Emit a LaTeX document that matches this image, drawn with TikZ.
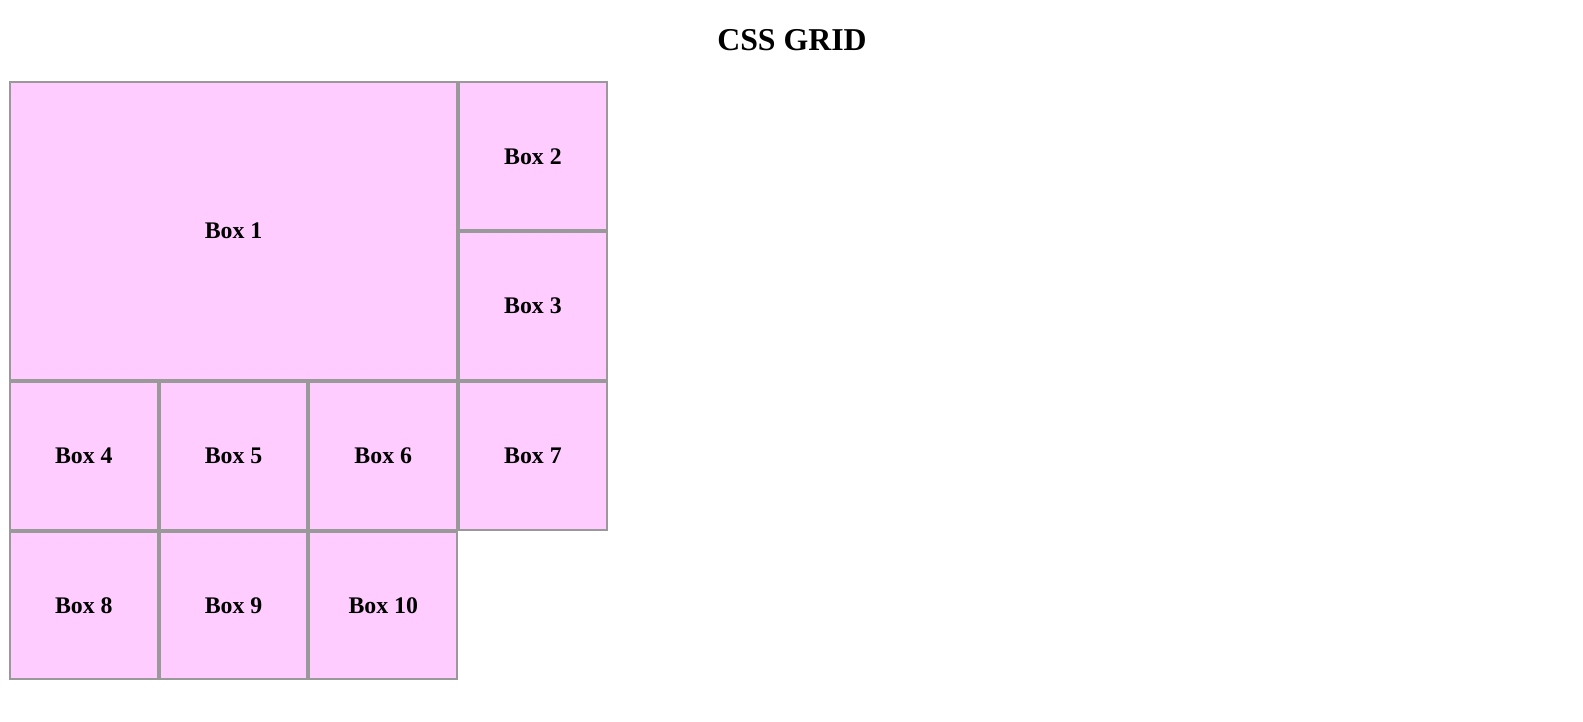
\documentclass[tikz,border=0pt]{standalone}
\usepackage{fontspec}
\setmainfont{Liberation Serif}
\definecolor{boxfill}{HTML}{FFCCFF}
\definecolor{boxline}{HTML}{999999}
\begin{document}
\begin{tikzpicture}[x=1pt,y=-1pt,
  cell/.style={draw=boxline,fill=boxfill,line width=2pt,inner sep=0pt,
    font=\fontsize{23.8}{28}\selectfont\bfseries},
  title/.style={font=\fontsize{31.8}{36}\selectfont\bfseries,inner sep=0pt}]
\useasboundingbox (0,0) rectangle (1583,722);
\def\cw{149.7}
% cells: name, col, row, colspan, rowspan, label
\foreach \n/\c/\r/\cs/\rs/\t in {b1/0/0/3/2/Box 1, b2/3/0/1/1/Box 2, b3/3/1/1/1/Box 3,
  b4/0/2/1/1/Box 4, b5/1/2/1/1/Box 5, b6/2/2/1/1/Box 6, b7/3/2/1/1/Box 7,
  b8/0/3/1/1/Box 8, b9/1/3/1/1/Box 9, b10/2/3/1/1/Box 10}{
  \pgfmathsetmacro{\myxa}{8+\cw*\c+1}
  \pgfmathsetmacro{\myya}{80.5+\cw*\r+1}
  \pgfmathsetmacro{\mywd}{\cw*\cs-2}
  \pgfmathsetmacro{\myht}{\cw*\rs-2}
  \node[cell,anchor=north west,minimum width=\mywd pt,minimum height=\myht pt]
    (\n) at (\myxa,\myya) {\t};
}
\node[title] (ttl) at (792,40.5) {CSS GRID};
\end{tikzpicture}
\end{document}
